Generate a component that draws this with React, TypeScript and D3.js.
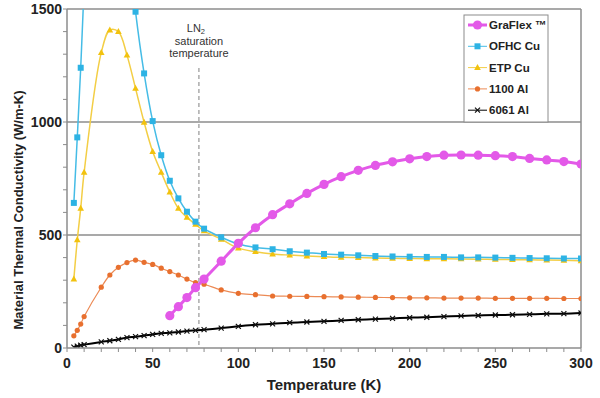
import React from "react";
import * as d3 from "d3";

// ---- data ----
const graflexT = [60, 65, 70, 75, 80, 90, 100, 110, 120, 130, 140, 150, 160, 170, 180, 190, 200, 210, 220, 230, 240, 250, 260, 270, 280, 290, 300];
const graflexK = [143, 183, 223, 267, 305, 384, 463, 532, 590, 638, 684, 724, 758, 786, 808, 824, 837, 847, 853, 854, 853, 851, 847, 839, 832, 825, 814];

const ofhcT = [4, 6, 8, 10, 15, 20, 25, 30, 35, 40, 45, 50, 55, 60, 65, 70, 75, 80, 90, 100, 110, 120, 130, 140, 150, 160, 170, 180, 190, 200, 210, 220, 230, 240, 250, 260, 270, 280, 290, 300];
const ofhcK = [642, 932, 1240, 1600, 2300, 2600, 2500, 2200, 1850, 1488, 1215, 1004, 853, 740, 662, 603, 559, 528, 490, 460, 445, 437, 428, 422, 416, 413, 410, 407, 405, 404, 403, 403, 401, 401, 400, 399, 398, 397, 396, 396];

const metalT = [4, 6, 8, 10, 20, 25, 30, 35, 40, 45, 50, 55, 60, 65, 70, 75, 80, 90, 100, 110, 120, 130, 140, 150, 160, 170, 180, 190, 200, 210, 220, 230, 240, 250, 260, 270, 280, 290, 300];
const etpK = [305, 478, 618, 777, 1307, 1407, 1400, 1296, 1149, 999, 869, 777, 690, 618, 578, 547, 518, 481, 442, 426, 416, 411, 407, 404, 401, 400, 398, 397, 396, 395, 395, 394, 393, 392, 391, 390, 389, 388, 386];
const al1100K = [54, 78, 106, 139, 269, 323, 357, 378, 389, 379, 370, 353, 338, 323, 305, 289, 282, 257, 242, 236, 230, 229, 228, 227, 226, 225, 224, 223, 222, 222, 221, 221, 221, 220, 220, 220, 220, 219, 219];
const al6061K = [4, 8, 12, 15, 27, 32, 38, 46, 50, 55, 60, 65, 67, 71, 75, 78, 81, 88, 96, 103, 107, 112, 115, 118, 122, 125, 128, 131, 134, 136, 139, 142, 144, 146, 147, 149, 151, 152, 155];

const seriesNames = ["GraFlex \u2122", "OFHC Cu", "ETP Cu", "1100 Al", "6061 Al"];
const xTicks = [0, 50, 100, 150, 200, 250, 300];
const yTicks = [0, 500, 1000, 1500];
const ln2Temp = 77;

const W = 600, H = 398;
const M = { left: 67, right: 581, top: 9, bottom: 348 };
const FONT = "'Liberation Sans', Arial, sans-serif";

type Marker = "circleBig" | "square" | "triangle" | "circle" | "cross";

interface Series {
  name: string;
  t: number[];
  k: number[];
  color: string;
  lineColor: string;
  lineWidth: number;
  marker: Marker;
}

const series: Series[] = [
  { name: seriesNames[4], t: metalT, k: al6061K, color: "#111111", lineColor: "#000000", lineWidth: 2, marker: "cross" },
  { name: seriesNames[3], t: metalT, k: al1100K, color: "#E8702F", lineColor: "#EC8A55", lineWidth: 1.2, marker: "circle" },
  { name: seriesNames[2], t: metalT, k: etpK, color: "#F2C20E", lineColor: "#F3CE45", lineWidth: 1.5, marker: "triangle" },
  { name: seriesNames[1], t: ofhcT, k: ofhcK, color: "#2DB3E4", lineColor: "#45BCE6", lineWidth: 1.5, marker: "square" },
  { name: seriesNames[0], t: graflexT, k: graflexK, color: "#E359E8", lineColor: "#E359E8", lineWidth: 3, marker: "circleBig" },
];

function MarkerShape({ type, x, y, color }: { type: Marker; x: number; y: number; color: string }) {
  switch (type) {
    case "circleBig":
      return <circle cx={x} cy={y} r={4.6} fill={color} />;
    case "square":
      return <rect x={x - 3} y={y - 3} width={6} height={6} fill={color} />;
    case "triangle":
      return <path d={`M${x},${y - 3.6}L${x + 3.3},${y + 2.4}L${x - 3.3},${y + 2.4}Z`} fill={color} />;
    case "circle":
      return <circle cx={x} cy={y} r={2.6} fill={color} />;
    case "cross":
      return (
        <path d={`M${x - 2.5},${y - 2.5}L${x + 2.5},${y + 2.5}M${x - 2.5},${y + 2.5}L${x + 2.5},${y - 2.5}`} stroke={color} strokeWidth={1.2} />
      );
  }
}

export default function App() {
  const x = d3.scaleLinear().domain([0, 300]).range([M.left, M.right]);
  const y = d3.scaleLinear().domain([0, 1500]).range([M.bottom, M.top]);

  const line = d3
    .line<[number, number]>()
    .x((d) => x(d[0]))
    .y((d) => y(d[1]))
    .curve(d3.curveCatmullRom.alpha(0.5));

  const minorX = d3.range(0, 301, 10);
  const minorY = d3.range(0, 1501, 100);

  const legendOrder = [4, 3, 2, 1, 0];
  const legendX = 464, legendY = 15, legendW = 84, legendH = 107;

  return (
    <svg width={W} height={H} style={{ position: "absolute", left: 0, top: 0, background: "#fff" }} fontFamily={FONT}>
      <defs>
        <clipPath id="plotClip">
          <rect x={M.left} y={M.top} width={M.right - M.left} height={M.bottom - M.top} />
        </clipPath>
      </defs>
      <rect width={W} height={H} fill="#fff" />

      {/* gridlines */}
      {yTicks.filter((v) => v > 0).map((v) => (
        <line key={v} x1={M.left} x2={M.right} y1={y(v)} y2={y(v)} stroke="#8c8c8c" strokeWidth={1.5} />
      ))}
      {/* right border */}
      <line x1={M.right} x2={M.right} y1={M.top} y2={M.bottom} stroke="#8c8c8c" strokeWidth={1.5} />

      {/* LN2 dashed line */}
      <line x1={x(ln2Temp)} x2={x(ln2Temp)} y1={68} y2={M.bottom} stroke="#808080" strokeWidth={1} strokeDasharray="4,3" />
      <text x={x(ln2Temp) - 3} y={32} fontSize={11} textAnchor="middle" fill="#333">
        LN<tspan fontSize={7.5} dy={2}>2</tspan>
      </text>
      <text x={x(ln2Temp)} y={45} fontSize={11} textAnchor="middle" fill="#333">saturation</text>
      <text x={x(ln2Temp)} y={57} fontSize={11} textAnchor="middle" fill="#333">temperature</text>

      {/* series */}
      <g clipPath="url(#plotClip)">
        {series.map((s) => {
          const pts: [number, number][] = s.t.map((t, i) => [t, s.k[i]]);
          return (
            <g key={s.name}>
              <path d={line(pts) || ""} fill="none" stroke={s.lineColor} strokeWidth={s.lineWidth} />
              {pts.map((p, i) => (
                <MarkerShape key={i} type={s.marker} x={x(p[0])} y={y(p[1])} color={s.color} />
              ))}
            </g>
          );
        })}
      </g>

      {/* axes */}
      <line x1={M.left} x2={M.left} y1={M.top} y2={M.bottom} stroke="#8c8c8c" strokeWidth={1.5} />
      <line x1={M.left} x2={M.right} y1={M.bottom} y2={M.bottom} stroke="#8c8c8c" strokeWidth={1.5} />
      {minorY.map((v) => (
        <line key={v} x1={M.left - 4} x2={M.left} y1={y(v)} y2={y(v)} stroke="#8c8c8c" strokeWidth={1} />
      ))}
      {minorX.map((v) => (
        <line key={v} x1={x(v)} x2={x(v)} y1={M.bottom} y2={M.bottom + 4} stroke="#8c8c8c" strokeWidth={1} />
      ))}
      {yTicks.map((v) => (
        <text key={v} x={M.left - 5} y={y(v) + 5} fontSize={14} fontWeight="bold" textAnchor="end" fill="#222">
          {v}
        </text>
      ))}
      {xTicks.map((v) => (
        <text key={v} x={x(v)} y={368} fontSize={14} fontWeight="bold" textAnchor="middle" fill="#222">
          {v}
        </text>
      ))}
      <text x={(M.left + M.right) / 2} y={390} fontSize={15} fontWeight="bold" textAnchor="middle" fill="#222">
        Temperature (K)
      </text>
      <text
        transform={`translate(23,210) rotate(-90)`}
        fontSize={13}
        fontWeight="bold"
        textAnchor="middle"
        fill="#222"
      >
        Material Thermal Conductivity (W/m-K)
      </text>

      {/* legend */}
      <rect x={legendX} y={legendY} width={legendW} height={legendH} fill="#fff" stroke="#8c8c8c" strokeWidth={1} />
      {legendOrder.map((si, i) => {
        const s = series[si];
        const ly = 25 + i * 21.3;
        return (
          <g key={s.name}>
            <line x1={468} x2={487} y1={ly} y2={ly} stroke={s.lineColor} strokeWidth={s.marker === "circleBig" ? 3 : 1} />
            <MarkerShape type={s.marker} x={477.5} y={ly} color={s.color} />
            <text x={489} y={ly + 4} fontSize={11.5} fontWeight="bold" fill="#222">
              {s.name}
            </text>
          </g>
        );
      })}
    </svg>
  );
}
